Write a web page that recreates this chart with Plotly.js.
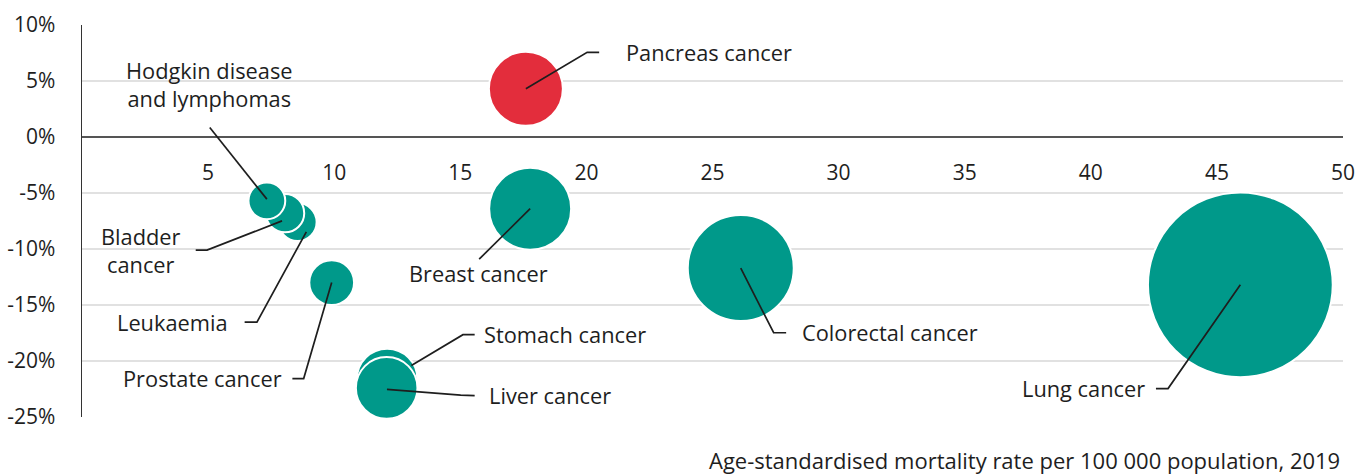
<!DOCTYPE html>
<html>
<head>
<meta charset="utf-8">
<script src="https://cdn.plot.ly/plotly-3.0.1.min.js"></script>
<style>
  html, body { margin: 0; padding: 0; background: #ffffff; }
  #chart { width: 1357px; height: 475px; }
</style>
</head>
<body>
<div id="chart"></div>
<script>
// Cancer sites, in drawing order (later sites sit on top of earlier ones)
const sites = [
  'Leukaemia', 'Bladder<br>cancer', 'Hodgkin disease<br>and lymphomas',
  'Prostate cancer', 'Stomach cancer', 'Liver cancer',
  'Breast cancer', 'Pancreas cancer', 'Colorectal cancer', 'Lung cancer'
];
// Age-standardised mortality rate per 100 000 population, 2019
const mortalityRate = [8.55, 8.05, 7.33, 9.9, 12.1, 12.08, 17.77, 17.6, 26.12, 45.93];
// Change in mortality rate (%)
const changePct = [-7.6, -6.8, -5.7, -13.0, -21.6, -22.4, -6.4, 4.3, -11.7, -13.2];
// Relative bubble weight
const bubbleWeight = [9.5, 9.6, 9.2, 11.2, 15.1, 15.4, 20.5, 18.5, 26.5, 46.2];

const xTicks = [5, 10, 15, 20, 25, 30, 35, 40, 45, 50];
const yTicks = [-25, -20, -15, -10, -5, 0, 5, 10];
const xTitle = 'Age-standardised mortality rate per 100 000 population, 2019';

const TEAL = '#00998a';
const RED = '#e32d3c';
const INK = '#1e1e1e';
const FONT = 'Open Sans, Noto Sans, sans-serif';

// Label placement relative to each bubble centre (screen pixels, y down):
// leader polyline points, then text anchor point and alignment.
const labelLayout = {
  'Leukaemia':                       { path: [[8.7, 9.7], [-40.7, 100], [-53, 100]],      tx: -69,  ty: 100,   align: 'right' },
  'Bladder<br>cancer':               { path: [[-3, 7.7], [-78, 37], [-89.3, 37]],         tx: -144, ty: 37,    align: 'center' },
  'Hodgkin disease<br>and lymphomas':{ path: [[0, -1.7], [-57.1, -73.3]],                 tx: -57,  ty: -116.5, align: 'center' },
  'Prostate cancer':                 { path: [[0, 0], [-28, 96], [-39.3, 96]],            tx: -48.5, ty: 96,   align: 'right' },
  'Stomach cancer':                  { path: [[24.2, -13.5], [75.8, -44.2], [87.5, -44.2]], tx: 96, ty: -44.2, align: 'left' },
  'Liver cancer':                    { path: [[0.3, 1.4], [74, 7.2], [88, 7.7]],          tx: 101,  ty: 7.7,   align: 'left' },
  'Breast cancer':                   { path: [[0, 0], [-51, 50.5]],                       tx: -51.5, ty: 65,   align: 'center' },
  'Pancreas cancer':                 { path: [[0, 0], [61.3, -36.5], [73.3, -36.5]],      tx: 99,   ty: -36,   align: 'left' },
  'Colorectal cancer':               { path: [[0, 0], [32.9, 64.7], [45.4, 64.7]],        tx: 60.5, ty: 64.7,  align: 'left' },
  'Lung cancer':                     { path: [[0, 0], [-72.3, 103.7], [-84.4, 103.7]],    tx: -94,  ty: 103.7, align: 'right' }
};

const colors = sites.map(s => s === 'Pancreas cancer' ? RED : TEAL);

const trace = {
  type: 'scatter',
  mode: 'markers',
  x: mortalityRate,
  y: changePct,
  text: sites,
  hoverinfo: 'text',
  cliponaxis: false,
  marker: {
    size: bubbleWeight,
    sizemode: 'diameter',
    sizeref: 0.25,
    color: colors,
    opacity: 1,
    line: { color: '#ffffff', width: 2 }
  }
};

const shapes = [];
const annotations = [];
sites.forEach((s, i) => {
  const L = labelLayout[s];
  const d = L.path.map((p, k) => (k ? 'L' : 'M') + p[0] + ',' + (-p[1])).join(' ');
  shapes.push({
    type: 'path',
    xref: 'x', yref: 'y',
    xsizemode: 'pixel', ysizemode: 'pixel',
    xanchor: mortalityRate[i], yanchor: changePct[i],
    path: d,
    layer: 'above',
    line: { color: INK, width: 1.7 }
  });
  annotations.push({
    xref: 'x', yref: 'y',
    x: mortalityRate[i], y: changePct[i],
    xshift: L.tx, yshift: -L.ty,
    xanchor: L.align, yanchor: 'middle',
    align: L.align,
    showarrow: false,
    borderpad: 0,
    text: s,
    font: { family: FONT, size: 21.8, color: INK }
  });
});

annotations.push({
  xref: 'paper', yref: 'paper',
  x: 1, y: 0, xshift: -2, yshift: -43,
  xanchor: 'right', yanchor: 'middle',
  showarrow: false,
  borderpad: 0,
  text: xTitle,
  font: { family: FONT, size: 22, color: INK }
});

const layout = {
  width: 1357,
  height: 475,
  margin: { l: 82, r: 14, t: 25, b: 58, pad: 0 },
  paper_bgcolor: '#ffffff',
  plot_bgcolor: '#ffffff',
  showlegend: false,
  font: { family: FONT, size: 21, color: INK },
  xaxis: {
    range: [0, 50],
    tickvals: xTicks,
    ticktext: xTicks.map(String),
    anchor: 'free',
    position: 25 / 35,
    showgrid: false,
    zeroline: false,
    showline: false,
    ticks: '',
    ticklabelstandoff: 21,
    tickfont: { family: FONT, size: 21, color: INK },
    fixedrange: true
  },
  yaxis: {
    range: [-25, 10],
    tickvals: yTicks,
    ticktext: yTicks.map(v => v + '%'),
    showgrid: true,
    gridcolor: '#e1e1e1',
    gridwidth: 2,
    zeroline: true,
    zerolinecolor: '#555555',
    zerolinewidth: 2,
    showline: true,
    linecolor: '#333333',
    linewidth: 1.5,
    ticks: '',
    ticklabelstandoff: 21,
    tickfont: { family: FONT, size: 21, color: INK },
    fixedrange: true
  },
  shapes: shapes,
  annotations: annotations
};

Plotly.newPlot('chart', [trace], layout, { displayModeBar: false, staticPlot: true });
</script>
</body>
</html>
